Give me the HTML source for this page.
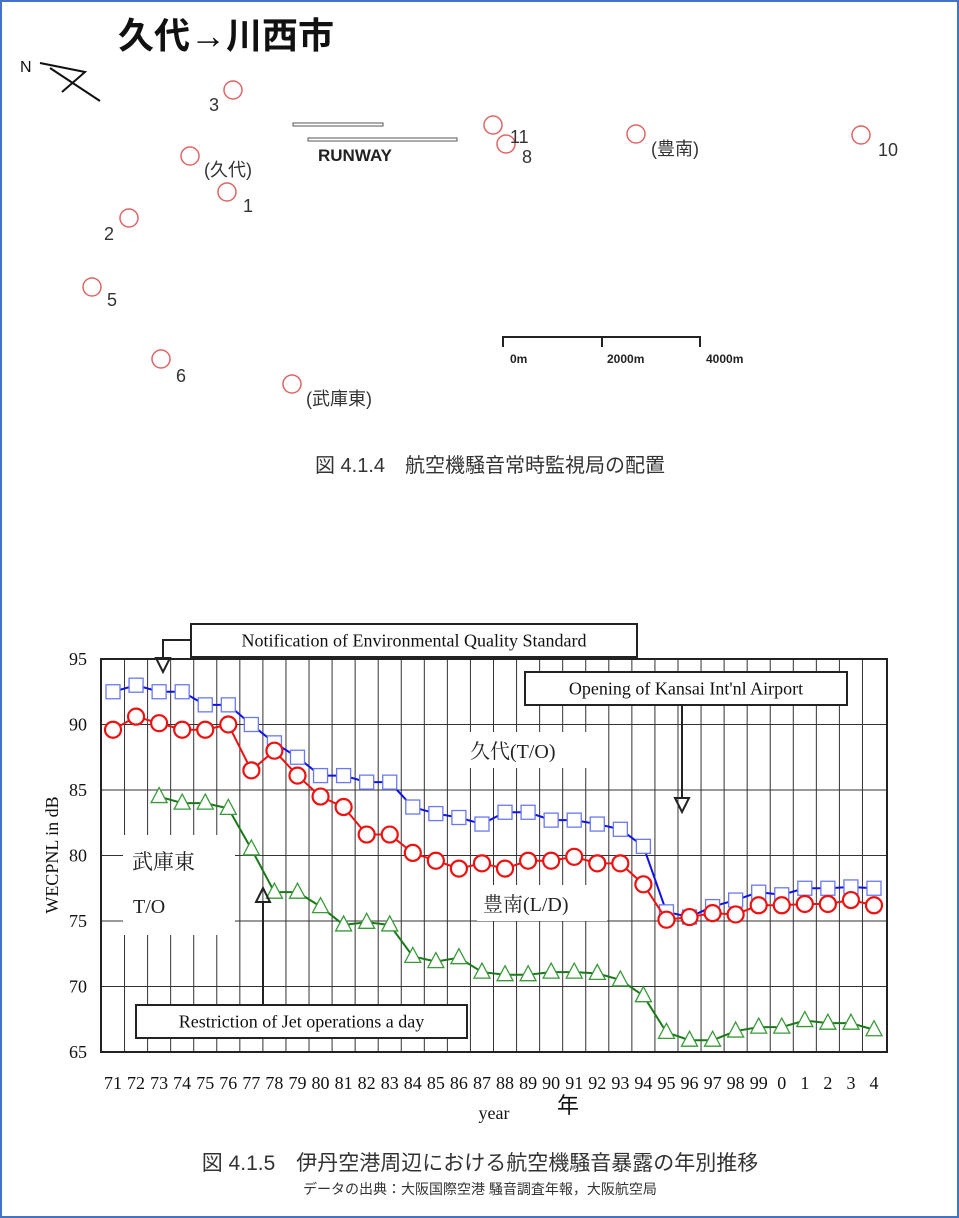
<!DOCTYPE html>
<html><head><meta charset="utf-8"><style>
body{margin:0;background:#fff;}
svg{display:block;}
.s{font-family:"Liberation Sans","Noto Sans CJK JP",sans-serif;}
.r{font-family:"Liberation Serif","Noto Serif CJK SC",serif;}
</style></head><body>
<svg id="pg" width="959" height="1218" viewBox="0 0 959 1218">
<rect x="1" y="1" width="957" height="1216" fill="#fff" stroke="#4472c4" stroke-width="2"/>
<g>
<text x="118" y="48" class="s" font-size="36" font-weight="bold" fill="#111">久代→川西市</text>
<text x="20" y="72" class="s" font-size="16" fill="#111">N</text>
<path d="M40 63 L85 72 L62 92 M50 68 L100 101" stroke="#111" stroke-width="2" fill="none"/>
<g fill="none" stroke="#d66" stroke-width="1.5">
<circle cx="233" cy="90" r="9"/>
<circle cx="190" cy="156" r="9"/>
<circle cx="227" cy="192" r="9"/>
<circle cx="129" cy="218" r="9"/>
<circle cx="92" cy="287" r="9"/>
<circle cx="161" cy="359" r="9"/>
<circle cx="292" cy="384" r="9"/>
<circle cx="493" cy="125" r="9"/>
<circle cx="506" cy="144" r="9"/>
<circle cx="636" cy="134" r="9"/>
<circle cx="861" cy="135" r="9"/>
</g>
<g class="s" font-size="18" fill="#333">
<text x="209" y="111">3</text><text x="204" y="176">(久代)</text><text x="243" y="212">1</text>
<text x="104" y="240">2</text><text x="107" y="306">5</text><text x="176" y="382">6</text>
<text x="306" y="405">(武庫東)</text><text x="510" y="143">11</text><text x="522" y="163">8</text>
<text x="651" y="155">(豊南)</text><text x="878" y="156">10</text>
</g>
<rect x="293" y="123" width="90" height="3" fill="#fff" stroke="#555"/>
<rect x="308" y="138" width="149" height="3" fill="#fff" stroke="#555"/>
<text x="318" y="161" class="s" font-size="17" font-weight="bold" fill="#222">RUNWAY</text>
<path d="M503 347 V337 H700 V347 M602 337 V347" stroke="#222" stroke-width="2" fill="none"/>
<g class="s" font-size="12" font-weight="bold" fill="#222">
<text x="510" y="363">0m</text><text x="607" y="363">2000m</text><text x="706" y="363">4000m</text></g>
<text x="490" y="472" text-anchor="middle" class="s" font-size="20" fill="#333">図 4.1.4　航空機騒音常時監視局の配置</text>
</g>
<g id="chart"></g>
<text x="480" y="1170" text-anchor="middle" class="s" font-size="21" fill="#333">図 4.1.5　伊丹空港周辺における航空機騒音暴露の年別推移</text>
<text x="480" y="1194" text-anchor="middle" class="s" font-size="14" fill="#333">データの出典：大阪国際空港 騒音調査年報，大阪航空局</text>
</svg>
<script>
const years = ["71","72","73","74","75","76","77","78","79","80","81","82","83","84","85","86","87","88","89","90","91","92","93","94","95","96","97","98","99","0","1","2","3","4"];
const yTicks = [65,70,75,80,85,90,95];
const kushiro = [92.5,93.0,92.5,92.5,91.5,91.5,90.0,88.6,87.5,86.1,86.1,85.6,85.6,83.7,83.2,82.9,82.4,83.3,83.3,82.7,82.7,82.4,82.0,80.7,75.7,75.3,76.1,76.6,77.2,77.0,77.5,77.5,77.6,77.5];
const honan = [89.6,90.6,90.1,89.6,89.6,90.0,86.5,88.0,86.1,84.5,83.7,81.6,81.6,80.2,79.6,79.0,79.4,79.0,79.6,79.6,79.9,79.4,79.4,77.8,75.1,75.3,75.6,75.5,76.2,76.2,76.3,76.3,76.6,76.2];
const muko = [null,null,84.5,84.0,84.0,83.6,80.5,77.2,77.2,76.1,74.7,74.9,74.7,72.3,71.9,72.2,71.1,70.9,70.9,71.1,71.1,71.0,70.5,69.3,66.5,65.9,65.9,66.6,66.9,66.9,67.4,67.2,67.2,66.7];

const NS="http://www.w3.org/2000/svg";
const g=document.getElementById('chart');
const L=101,R=887,T=659,B=1052;
const X0=113,DX=(874-113)/33;
const x=i=>X0+i*DX;
const y=v=>B-(v-65)/30*(B-T);
function mk(t,a,p){const e=document.createElementNS(NS,t);for(const k in a)e.setAttribute(k,a[k]);(p||g).appendChild(e);return e;}
for(let i=0;i<33;i++){const l=mk('line',{x1:x(i)+DX/2,x2:x(i)+DX/2,y1:T,y2:B,stroke:'#333','stroke-width':1});

}
yTicks.forEach(v=>{const l=mk('line',{x1:L,x2:R,y1:y(v),y2:y(v),stroke:'#333','stroke-width':1});


const t=mk('text',{x:L-14,y:y(v)+6,'text-anchor':'end','font-size':18,'class':'r',fill:'#111'});t.textContent=v;

});
const fr=mk('rect',{x:L,y:T,width:R-L,height:B-T,fill:'none',stroke:'#222','stroke-width':2});


function label(txt,xx,yy,w,h,name){const r=mk('rect',{x:xx-6,y:yy-h+4,width:w,height:h+6,fill:'#fff'});


const t=mk('text',{x:xx,y:yy,'font-size':20,'class':'r',fill:'#222'});t.textContent=txt;

}
label('久代(T/O)',470,758,130,30,'kushiro-label');
label('豊南(L/D)',483,911,130,30,'honan-label');
const bg=mk('rect',{x:123,y:835,width:112,height:100,fill:'#fff'});


const t1=mk('text',{x:132,y:869,'font-size':21,'class':'r',fill:'#222'});t1.textContent='武庫東';


const t2=mk('text',{x:133,y:913,'font-size':20,'class':'r',fill:'#222'});t2.textContent='T/O';


function series(data,color,mcol,shape,name){
let d='';data.forEach((v,i)=>{if(v==null)return;d+=(d?'L':'M')+x(i)+' '+y(v);});
const p=mk('path',{d:d,stroke:color,'stroke-width':2,fill:'none'});


data.forEach((v,i)=>{if(v==null)return;const cx=x(i),cy=y(v);let m;
if(shape==='sq')m=mk('rect',{x:cx-7,y:cy-7,width:14,height:14,fill:'#fff',stroke:mcol,'stroke-width':1.3});
else if(shape==='ci')m=mk('circle',{cx:cx,cy:cy,r:8,fill:'#fff',stroke:mcol,'stroke-width':2.2});
else m=mk('path',{d:`M${cx} ${cy-9}L${cx+8} ${cy+6}L${cx-8} ${cy+6}Z`,fill:'#fff',stroke:mcol,'stroke-width':1.3});

});}
series(muko,'#1a7a1a','#3a9a3a','tr','mukohigashi');
series(kushiro,'#1010ee','#6a7aee','sq','kushiro');
series(honan,'#ee1111','#ee1111','ci','honan');
years.forEach((s,i)=>{const t=mk('text',{x:x(i),y:1089,'text-anchor':'middle','font-size':18,'class':'r',fill:'#111'});t.textContent=s;

});
const yl=mk('text',{x:494,y:1119,'text-anchor':'middle','font-size':18,'class':'r',fill:'#111'});yl.textContent='year';


const nen=mk('text',{x:568,y:1113,'text-anchor':'middle','font-size':22,'class':'s',fill:'#111'});nen.textContent='年';


const ya=mk('text',{x:0,y:0,'text-anchor':'middle','font-size':18,'class':'r',fill:'#111',transform:'translate(58,855) rotate(-90)'});ya.textContent='WECPNL in dB';


function box(txt,x1,y1,w,h,name){const r=mk('rect',{x:x1,y:y1,width:w,height:h,fill:'#fff',stroke:'#222','stroke-width':2});


const t=mk('text',{x:x1+w/2,y:y1+h/2+6,'text-anchor':'middle','font-size':18,'class':'r',fill:'#111'});t.textContent=txt;

}
function pth(d,name){const p=mk('path',{d:d,stroke:'#222','stroke-width':2,fill:'none'});

}
pth('M163 658 V640 H191','eqs-leader');
pth('M156 658 L170 658 L163 672 Z','eqs-arrow');
box('Notification of Environmental Quality Standard',191,624,446,33,'eqs-annotation');
pth('M682 705 V798','kansai-leader');
pth('M675 798 L689 798 L682 812 Z','kansai-arrow');
box("Opening of Kansai Int'nl Airport",525,672,322,33,'kansai-annotation');
pth('M263 1005 V902','jet-leader');
pth('M256 902 L270 902 L263 888 Z','jet-arrow');
box('Restriction of Jet operations a day',136,1005,331,33,'jet-annotation');
</script>
</body></html>
